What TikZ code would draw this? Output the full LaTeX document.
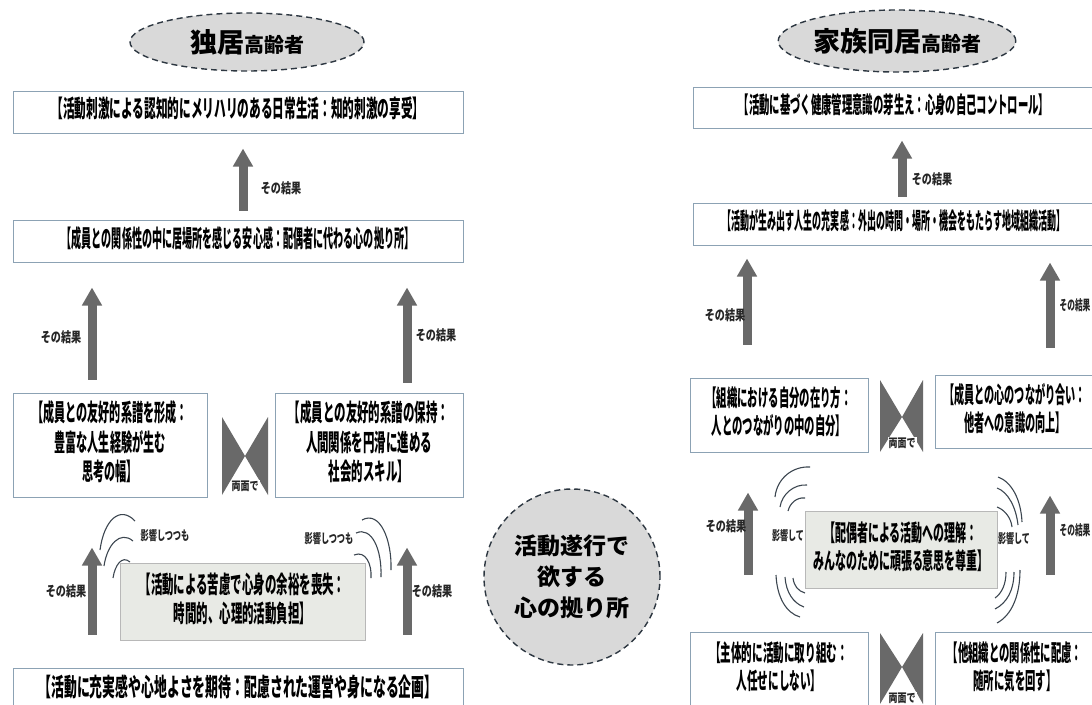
\documentclass[tikz,border=0pt]{standalone}
\usepackage{fontspec}
\usepackage{graphicx}
\usetikzlibrary{arrows.meta,shapes.geometric}
\newfontfamily\jp{Noto Sans CJK JP}
\definecolor{boxline}{RGB}{140,162,180}
\definecolor{arrowgray}{RGB}{105,105,105}
\definecolor{shadefill}{RGB}{232,234,229}
\definecolor{ovalfill}{RGB}{217,217,217}
\definecolor{dashline}{RGB}{45,55,65}
\definecolor{arcline}{RGB}{60,70,80}
\newcommand\jt[2]{\scalebox{#1}[1]{\begin{tabular}{@{}c@{}}#2\end{tabular}}}
\tikzset{
  box/.style={draw=boxline, line width=1pt, fill=white, inner sep=0pt,
    font=\jp\bfseries\fontsize{24}{29.5}\selectfont},
  rbox/.style={box, font=\jp\bfseries\fontsize{23}{28}\selectfont},
  shadebox/.style={fill=shadefill, draw=black!28},
  lab/.style={inner sep=0pt, text=black!85, font=\jp\bfseries\fontsize{14}{16}\selectfont},
  bigarrow/.style={draw=arrowgray, line width=9pt, -{Triangle[width=19pt,length=18pt]}},
  bow/.style={fill=arrowgray, draw=none},
  oval/.style={ellipse, draw=dashline, dash pattern=on 6pt off 4pt, line width=1.4pt,
    fill=ovalfill, inner sep=0pt},
  wave/.style={draw=arcline, line width=1.1pt},
}
\begin{document}
\begin{tikzpicture}[x=1pt,y=-1pt]
\useasboundingbox (0,0) rectangle (1092,704);

% ================= LEFT: 独居高齢者 =================
\node[oval, minimum width=234pt, minimum height=58pt] (lo) at (247,42)
  {\jp\bfseries{\fontsize{27}{30}\selectfont 独居}{\fontsize{20}{24}\selectfont 高齢者}};

\node[box, minimum width=450pt, minimum height=42pt] (b1) at (238,112)
  {\jt{0.486}{【活動刺激による認知的にメリハリのある日常生活：知的刺激の享受】}};
\node[box, minimum width=450pt, minimum height=42pt] (b2) at (238,241)
  {\jt{0.42}{【成員との関係性の中に居場所を感じる安心感：配偶者に代わる心の拠り所】}};
\node[box, minimum width=194pt, minimum height=104pt] (b3) at (110,445)
  {\jt{0.463}{【成員との友好的系譜を形成：\\豊富な人生経験が生む\\思考の幅】}};
\node[box, minimum width=188pt, minimum height=104pt] (b4) at (369,445)
  {\jt{0.477}{【成員との友好的系譜の保持：\\人間関係を円滑に進める\\社会的スキル】}};
\node[box, shadebox, minimum width=245pt, minimum height=77pt] (bc) at (242.5,602)
  {\jt{0.477}{【活動による苦慮で心身の余裕を喪失：\\時間的、心理的活動負担】}};
\node[box, minimum width=450pt, minimum height=44pt, font=\jp\bfseries\fontsize{25}{28}\selectfont] (b5) at (238,690)
  {\jt{0.515}{【活動に充実感や心地よさを期待：配慮された運営や身になる企画】}};

% arrows
\draw[bigarrow, shorten <=9pt, shorten >=15pt] ([xshift=5pt]b2.north) -- ([xshift=5pt]b1.south);
\draw[bigarrow, shorten <=13pt, shorten >=25pt] ([xshift=-18pt]b3.north) -- ([xshift=-18pt]b3.north |- b2.south);
\draw[bigarrow, shorten <=10pt, shorten >=25pt] ([xshift=38pt]b4.north) -- ([xshift=38pt]b4.north |- b2.south);
\draw[bigarrow, shorten <=33pt, shorten >=50pt] ([xshift=-18pt]b3.south |- b5.north) -- ([xshift=-18pt]b3.south);
\draw[bigarrow, shorten <=33pt, shorten >=50pt] ([xshift=38pt]b4.south |- b5.north) -- ([xshift=38pt]b4.south);

% labels
\node[lab] (l1) at (281,190) {\jt{0.72}{その結果}};
\node[lab] (l2) at (61,339) {\jt{0.72}{その結果}};
\node[lab] (l3) at (436,337) {\jt{0.72}{その結果}};
\node[lab] (l4) at (66,593) {\jt{0.72}{その結果}};
\node[lab] (l5) at (432,593) {\jt{0.72}{その結果}};
\node[lab, font=\jp\bfseries\fontsize{13}{15}\selectfont] (l6) at (165,537) {\jt{0.63}{影響しつつも}};
\node[lab, font=\jp\bfseries\fontsize{13}{15}\selectfont] (l7) at (329,540) {\jt{0.63}{影響しつつも}};

% bowtie
\fill[bow] (222,417) -- (245,456) -- (222,495) -- cycle;
\fill[bow] (268,417) -- (245,456) -- (268,495) -- cycle;
\node[lab, fill=white, inner sep=1pt, font=\jp\bfseries\fontsize{12}{14}\selectfont] (l8) at (245,488) {\jt{0.75}{両面で}};

% waves
\draw[wave] (100,550) .. controls (104,520) and (120,505) .. (135,521);
\draw[wave] (104,566) .. controls (107,545) and (120,530) .. (133,541);
\draw[wave] (113,578) .. controls (115,565) and (122,555) .. (130,562);
\draw[wave] (362,520) .. controls (380,510) and (392,540) .. (391,570);
\draw[wave] (356,533) .. controls (372,526) and (382,550) .. (381,577);
\draw[wave] (354,555) .. controls (366,550) and (372,565) .. (371,578);

% ================= CENTER =================
\node[circle, draw=dashline, dash pattern=on 6pt off 4pt, line width=1.4pt, fill=ovalfill,
  minimum size=176pt, inner sep=0pt, align=center,
  font=\jp\bfseries\fontsize{23}{31}\selectfont] (cc) at (572,577)
  {活動遂行で\\欲する\\心の拠り所};

% ================= RIGHT: 家族同居高齢者 =================
\node[oval, minimum width=234pt, minimum height=62pt] (ro) at (897,41)
  {\jp\bfseries{\fontsize{27}{30}\selectfont 家族同居}{\fontsize{20}{24}\selectfont 高齢者}};

\node[rbox, minimum width=402pt, minimum height=41pt] (r1) at (894,107.5)
  {\jt{0.45}{【活動に基づく健康管理意識の芽生え：心身の自己コントロール】}};
\node[rbox, minimum width=402pt, minimum height=42pt] (r2) at (894,224)
  {\jt{0.392}{【活動が生み出す人生の充実感：外出の時間・場所・機会をもたらす地域組織活動】}};
\node[rbox, minimum width=178pt, minimum height=74pt] (r3) at (779,415)
  {\jt{0.45}{【組織における自分の在り方：\\人とのつながりの中の自分】}};
\node[rbox, minimum width=160pt, minimum height=73pt] (r4) at (1015,411.5)
  {\jt{0.44}{【成員との心のつながり合い：\\他者への意識の向上】}};
\node[rbox, shadebox, minimum width=192pt, minimum height=77pt] (rc) at (901,550)
  {\jt{0.478}{【配偶者による活動への理解：\\みんなのために頑張る意思を尊重】}};
\node[rbox, minimum width=178pt, minimum height=76pt] (r5) at (779,670)
  {\jt{0.46}{【主体的に活動に取り組む：\\人任せにしない】}};
\node[rbox, minimum width=160pt, minimum height=76pt] (r6) at (1015,670)
  {\jt{0.45}{【他組織との関係性に配慮：\\随所に気を回す】}};

% arrows
\draw[bigarrow, shorten <=6pt, shorten >=12pt] ([xshift=8pt]r2.north) -- ([xshift=8pt]r1.south);
\draw[bigarrow, shorten <=33pt, shorten >=13pt] ([xshift=-32pt]r3.north) -- ([xshift=-32pt]r3.north |- r2.south);
\draw[bigarrow, shorten <=27pt, shorten >=17pt] ([xshift=35pt]r4.north) -- ([xshift=35pt]r4.north |- r2.south);
\draw[bigarrow, shorten <=57pt, shorten >=40pt] ([xshift=-31pt]r5.north) -- ([xshift=-31pt]r3.south);
\draw[bigarrow, shorten <=57pt, shorten >=47pt] ([xshift=35pt]r6.north) -- ([xshift=35pt]r4.south);

% labels
\node[lab] (q1) at (932,181) {\jt{0.72}{その結果}};
\node[lab] (q2) at (725,317) {\jt{0.72}{その結果}};
\node[lab] (q3) at (1075,307) {\jt{0.55}{その結果}};
\node[lab] (q4) at (726,528) {\jt{0.72}{その結果}};
\node[lab] (q5) at (1075,532) {\jt{0.55}{その結果}};
\node[lab, font=\jp\bfseries\fontsize{13}{15}\selectfont] (q6) at (788,537) {\jt{0.62}{影響して}};
\node[lab, font=\jp\bfseries\fontsize{13}{15}\selectfont] (q7) at (1014,540) {\jt{0.62}{影響して}};

% bowties
\fill[bow] (880,380) -- (902,417) -- (880,452) -- cycle;
\fill[bow] (923,380) -- (902,417) -- (923,452) -- cycle;
\node[lab, fill=white, inner sep=1pt, font=\jp\bfseries\fontsize{12}{14}\selectfont] (q8) at (902,445) {\jt{0.75}{両面で}};
\fill[bow] (880,633) -- (902,667) -- (880,704) -- cycle;
\fill[bow] (923,633) -- (902,667) -- (923,704) -- cycle;
\node[lab, fill=white, inner sep=1pt, font=\jp\bfseries\fontsize{12}{14}\selectfont] (q9) at (902,700) {\jt{0.75}{両面で}};

% waves
\draw[wave] (775,497) .. controls (777,478) and (793,466) .. (810,467);
\draw[wave] (780,507) .. controls (782,494) and (794,484) .. (807,485);
\draw[wave] (788,511) .. controls (790,503) and (797,497) .. (805,498);
\draw[wave] (776,575) .. controls (777,597) and (786,613) .. (800,617);
\draw[wave] (785,577) .. controls (786,592) and (793,603) .. (804,607);
\draw[wave] (793,578) .. controls (794,586) and (798,591) .. (805,593);
\draw[wave] (998,477) .. controls (1012,482) and (1021,500) .. (1022,522);
\draw[wave] (997,488) .. controls (1008,492) and (1016,507) .. (1018,525);
\draw[wave] (997,507) .. controls (1005,510) and (1011,518) .. (1012,527);
\draw[wave] (1020,570) .. controls (1020,595) and (1012,615) .. (997,623);
\draw[wave] (1014,572) .. controls (1014,590) and (1007,603) .. (995,609);
\draw[wave] (1006,572) .. controls (1006,584) and (1002,593) .. (995,598);
\end{tikzpicture}
\end{document}
